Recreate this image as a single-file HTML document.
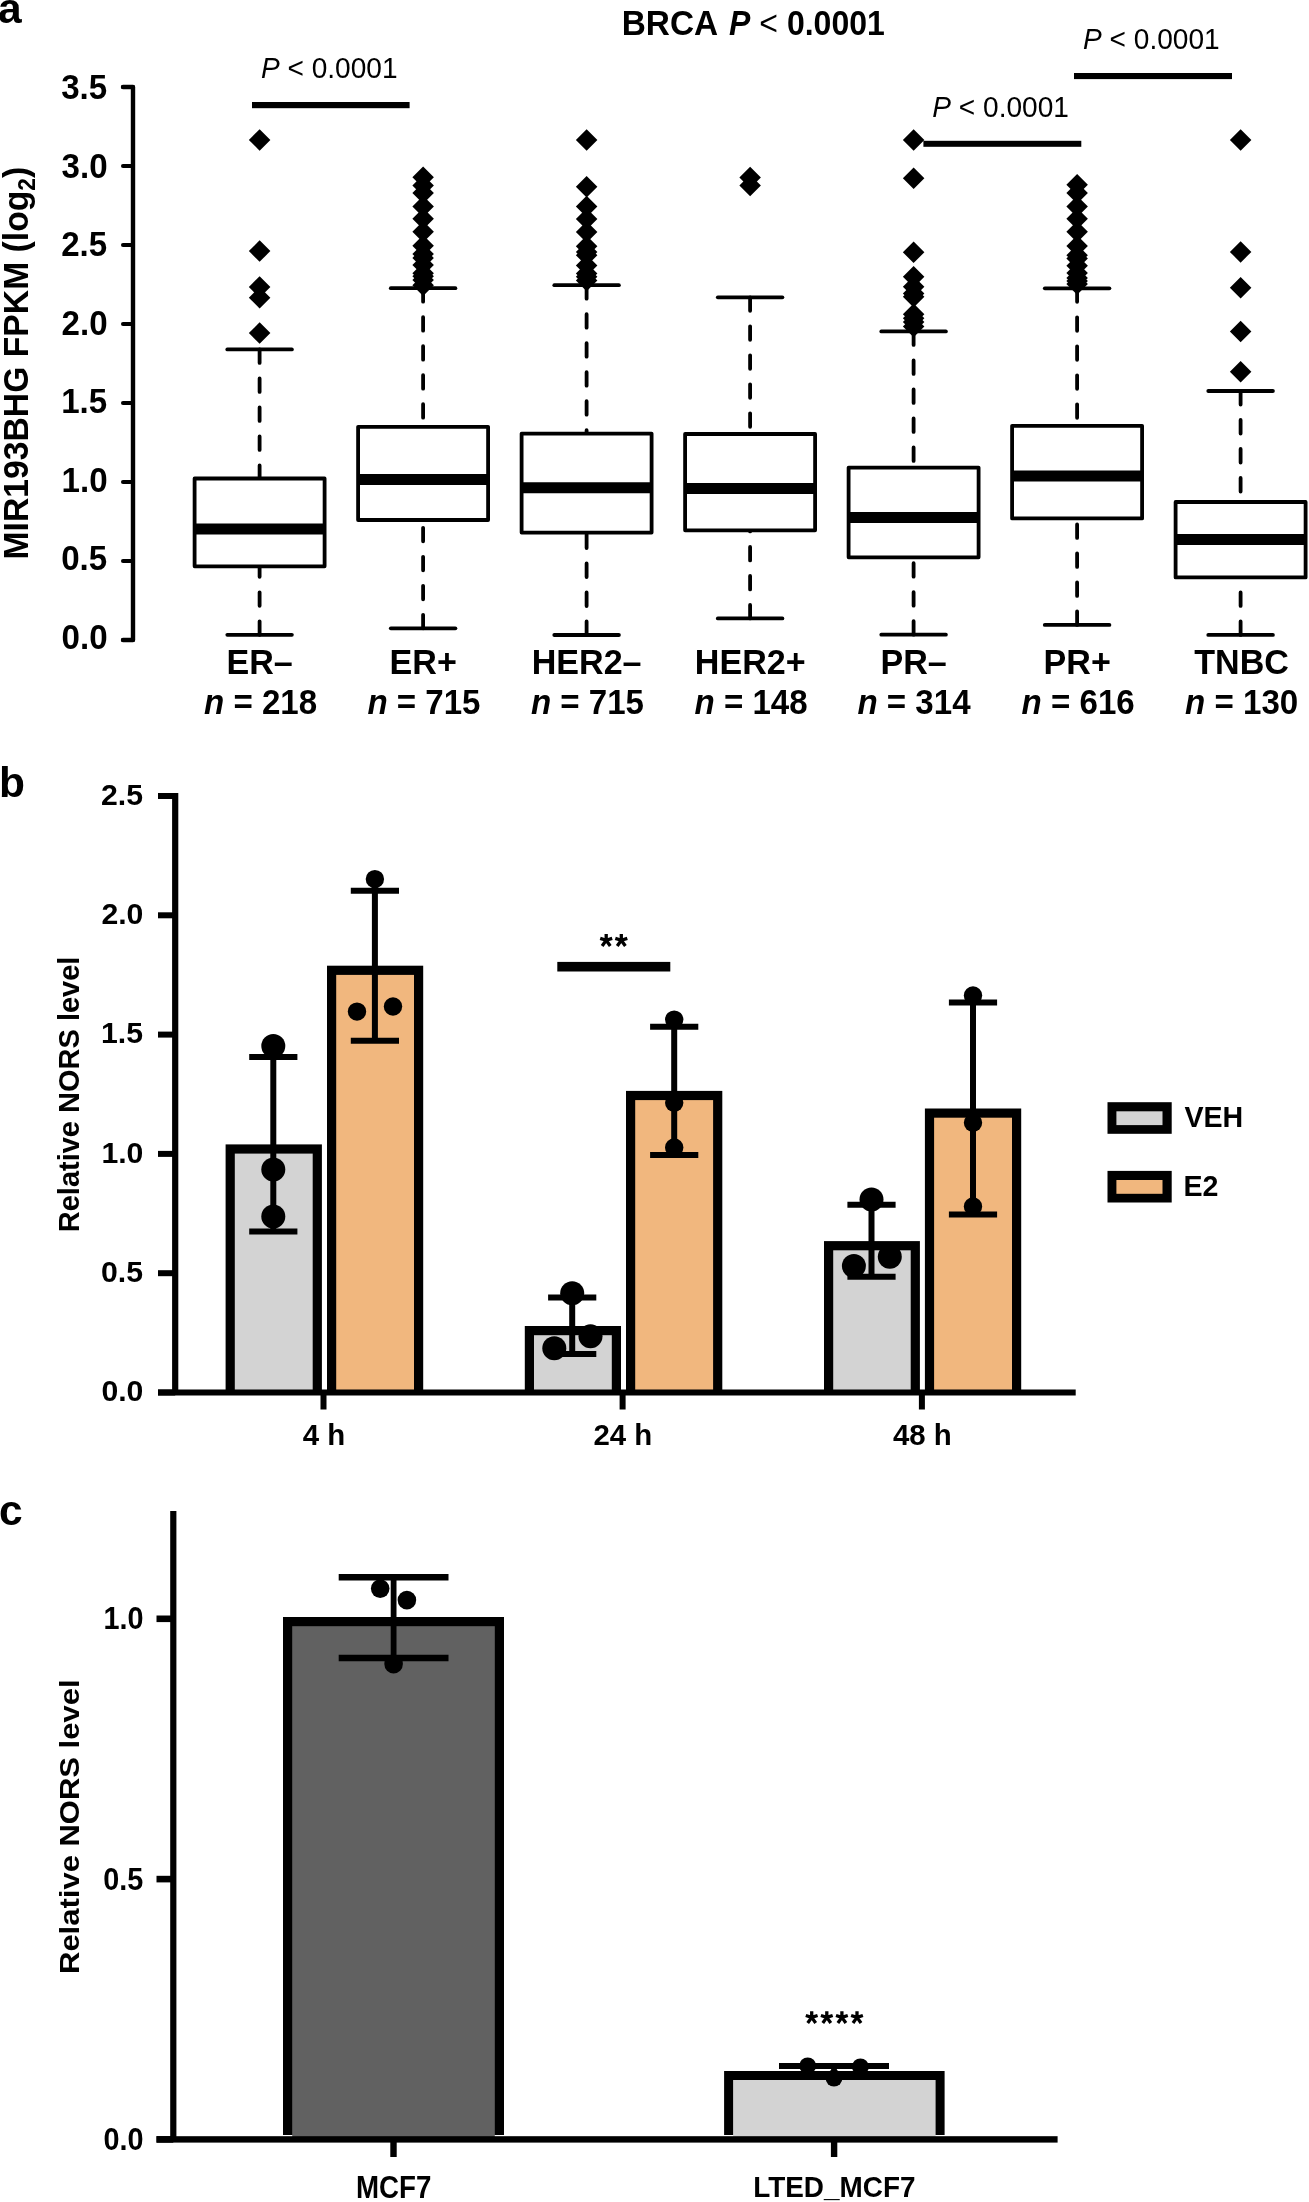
<!DOCTYPE html>
<html><head><meta charset="utf-8"><title>Figure</title>
<style>
html,body{margin:0;padding:0;background:#fff;}
body{width:1309px;height:2202px;overflow:hidden;}
svg{display:block;}
text{filter:grayscale(1);font-family:"Liberation Sans", sans-serif;fill:#000;font-size:100px;}
.b{font-weight:bold;}
.r{font-weight:normal;}
</style></head>
<body>
<svg width="1309" height="2202" viewBox="0 0 1309 2202">
<rect width="1309" height="2202" fill="#fff"/>
<path d="M123 87L133.0 87L133.0 640L123 640" fill="none" stroke="#000" stroke-width="4.4" stroke-linejoin="round" stroke-linecap="round"/>
<line x1="123" y1="640" x2="133.0" y2="640" stroke="#000" stroke-width="4.1" stroke-linecap="round"/>
<text class="b" text-anchor="end" transform="translate(107.592,649.191) scale(0.331,0.348)">0.0</text>
<line x1="123" y1="561" x2="133.0" y2="561" stroke="#000" stroke-width="4.1" stroke-linecap="round"/>
<text class="b" text-anchor="end" transform="translate(107.173,569.973) scale(0.331,0.348)">0.5</text>
<line x1="123" y1="482" x2="133.0" y2="482" stroke="#000" stroke-width="4.1" stroke-linecap="round"/>
<text class="b" text-anchor="end" transform="translate(107.592,491.573) scale(0.331,0.348)">1.0</text>
<line x1="123" y1="403" x2="133.0" y2="403" stroke="#000" stroke-width="4.1" stroke-linecap="round"/>
<text class="b" text-anchor="end" transform="translate(107.173,413.173) scale(0.331,0.348)">1.5</text>
<line x1="123" y1="324" x2="133.0" y2="324" stroke="#000" stroke-width="4.1" stroke-linecap="round"/>
<text class="b" text-anchor="end" transform="translate(107.592,334.583) scale(0.331,0.348)">2.0</text>
<line x1="123" y1="245" x2="133.0" y2="245" stroke="#000" stroke-width="4.1" stroke-linecap="round"/>
<text class="b" text-anchor="end" transform="translate(107.173,256.373) scale(0.331,0.348)">2.5</text>
<line x1="123" y1="166" x2="133.0" y2="166" stroke="#000" stroke-width="4.1" stroke-linecap="round"/>
<text class="b" text-anchor="end" transform="translate(107.592,177.783) scale(0.331,0.348)">3.0</text>
<line x1="123" y1="87" x2="133.0" y2="87" stroke="#000" stroke-width="4.1" stroke-linecap="round"/>
<text class="b" text-anchor="end" transform="translate(107.212,99.063) scale(0.331,0.348)">3.5</text>
<text class="b" transform="translate(28.097,559.471) rotate(-90) scale(0.337,0.348)">MIR193BHG FPKM (log<tspan font-size="67" dy="21">2</tspan><tspan dy="-21">)</tspan></text>
<line x1="259.6" y1="349.4" x2="259.6" y2="478.5" stroke="#000" stroke-width="3.8" stroke-linecap="round" stroke-dasharray="13.5 15.5"/>
<line x1="259.6" y1="634.8" x2="259.6" y2="566.3" stroke="#000" stroke-width="3.8" stroke-linecap="round" stroke-dasharray="13.5 15.5"/>
<line x1="227.3" y1="349.4" x2="291.9" y2="349.4" stroke="#000" stroke-width="3.8" stroke-linecap="round"/>
<line x1="227.3" y1="634.8" x2="291.9" y2="634.8" stroke="#000" stroke-width="3.8" stroke-linecap="round"/>
<rect x="194.6" y="478.5" width="130" height="87.8" fill="#fff" stroke="#000" stroke-width="3.8" stroke-linejoin="round"/>
<line x1="194.6" y1="529" x2="324.6" y2="529" stroke="#000" stroke-width="11"/>
<path d="M259.6 129.15L270.35 139.9L259.6 150.65L248.85 139.9Z" fill="#000"/>
<path d="M259.6 240.35L270.35 251.1L259.6 261.85L248.85 251.1Z" fill="#000"/>
<path d="M259.6 276.25L270.35 287L259.6 297.75L248.85 287Z" fill="#000"/>
<path d="M259.6 286.95L270.35 297.7L259.6 308.45L248.85 297.7Z" fill="#000"/>
<path d="M259.6 322.35L270.35 333.1L259.6 343.85L248.85 333.1Z" fill="#000"/>
<text class="b" text-anchor="middle" transform="translate(259.582,673.8) scale(0.341,0.349)">ER–</text>
<text class="b" text-anchor="middle" transform="translate(260.557,714.2) scale(0.331,0.342)"><tspan font-style="italic">n</tspan> = 218</text>
<line x1="423.1" y1="288.2" x2="423.1" y2="426.8" stroke="#000" stroke-width="3.8" stroke-linecap="round" stroke-dasharray="13.5 15.5"/>
<line x1="423.1" y1="628.3" x2="423.1" y2="520" stroke="#000" stroke-width="3.8" stroke-linecap="round" stroke-dasharray="13.5 15.5"/>
<line x1="390.8" y1="288.2" x2="455.4" y2="288.2" stroke="#000" stroke-width="3.8" stroke-linecap="round"/>
<line x1="390.8" y1="628.3" x2="455.4" y2="628.3" stroke="#000" stroke-width="3.8" stroke-linecap="round"/>
<rect x="358.1" y="426.8" width="130" height="93.2" fill="#fff" stroke="#000" stroke-width="3.8" stroke-linejoin="round"/>
<line x1="358.1" y1="479.5" x2="488.1" y2="479.5" stroke="#000" stroke-width="11"/>
<path d="M423.1 166.45L433.85 177.2L423.1 187.95L412.35 177.2Z" fill="#000"/>
<path d="M423.1 174.65L433.85 185.4L423.1 196.15L412.35 185.4Z" fill="#000"/>
<path d="M423.1 182.25L433.85 193L423.1 203.75L412.35 193Z" fill="#000"/>
<path d="M423.1 195.65L433.85 206.4L423.1 217.15L412.35 206.4Z" fill="#000"/>
<path d="M423.1 208.05L433.85 218.8L423.1 229.55L412.35 218.8Z" fill="#000"/>
<path d="M423.1 221.05L433.85 231.8L423.1 242.55L412.35 231.8Z" fill="#000"/>
<path d="M423.1 235.05L433.85 245.8L423.1 256.55L412.35 245.8Z" fill="#000"/>
<path d="M423.1 243.25L433.85 254L423.1 264.75L412.35 254Z" fill="#000"/>
<path d="M423.1 247.15L433.85 257.9L423.1 268.65L412.35 257.9Z" fill="#000"/>
<path d="M423.1 254.15L433.85 264.9L423.1 275.65L412.35 264.9Z" fill="#000"/>
<path d="M423.1 262.45L433.85 273.2L423.1 283.95L412.35 273.2Z" fill="#000"/>
<path d="M423.1 265.55L433.85 276.3L423.1 287.05L412.35 276.3Z" fill="#000"/>
<path d="M423.1 269.25L433.85 280L423.1 290.75L412.35 280Z" fill="#000"/>
<path d="M423.1 274.55L433.85 285.3L423.1 296.05L412.35 285.3Z" fill="#000"/>
<text class="b" text-anchor="middle" transform="translate(423.2,673.9) scale(0.341,0.349)">ER+</text>
<text class="b" text-anchor="middle" transform="translate(423.949,714.4) scale(0.331,0.342)"><tspan font-style="italic">n</tspan> = 715</text>
<line x1="586.6" y1="285.2" x2="586.6" y2="433.6" stroke="#000" stroke-width="3.8" stroke-linecap="round" stroke-dasharray="13.5 15.5"/>
<line x1="586.6" y1="635" x2="586.6" y2="532.6" stroke="#000" stroke-width="3.8" stroke-linecap="round" stroke-dasharray="13.5 15.5"/>
<line x1="554.3" y1="285.2" x2="618.9" y2="285.2" stroke="#000" stroke-width="3.8" stroke-linecap="round"/>
<line x1="554.3" y1="635" x2="618.9" y2="635" stroke="#000" stroke-width="3.8" stroke-linecap="round"/>
<rect x="521.6" y="433.6" width="130" height="99" fill="#fff" stroke="#000" stroke-width="3.8" stroke-linejoin="round"/>
<line x1="521.6" y1="487.8" x2="651.6" y2="487.8" stroke="#000" stroke-width="11"/>
<path d="M586.6 129.15L597.35 139.9L586.6 150.65L575.85 139.9Z" fill="#000"/>
<path d="M586.6 176.05L597.35 186.8L586.6 197.55L575.85 186.8Z" fill="#000"/>
<path d="M586.6 195.85L597.35 206.6L586.6 217.35L575.85 206.6Z" fill="#000"/>
<path d="M586.6 208.25L597.35 219L586.6 229.75L575.85 219Z" fill="#000"/>
<path d="M586.6 221.25L597.35 232L586.6 242.75L575.85 232Z" fill="#000"/>
<path d="M586.6 235.55L597.35 246.3L586.6 257.05L575.85 246.3Z" fill="#000"/>
<path d="M586.6 241.25L597.35 252L586.6 262.75L575.85 252Z" fill="#000"/>
<path d="M586.6 244.45L597.35 255.2L586.6 265.95L575.85 255.2Z" fill="#000"/>
<path d="M586.6 254.65L597.35 265.4L586.6 276.15L575.85 265.4Z" fill="#000"/>
<path d="M586.6 262.85L597.35 273.6L586.6 284.35L575.85 273.6Z" fill="#000"/>
<path d="M586.6 266.05L597.35 276.8L586.6 287.55L575.85 276.8Z" fill="#000"/>
<path d="M586.6 269.75L597.35 280.5L586.6 291.25L575.85 280.5Z" fill="#000"/>
<text class="b" text-anchor="middle" transform="translate(586.622,674.3) scale(0.341,0.349)">HER2–</text>
<text class="b" text-anchor="middle" transform="translate(587.455,714.2) scale(0.331,0.342)"><tspan font-style="italic">n</tspan> = 715</text>
<line x1="750.1" y1="297.3" x2="750.1" y2="434" stroke="#000" stroke-width="3.8" stroke-linecap="round" stroke-dasharray="13.5 15.5"/>
<line x1="750.1" y1="618.4" x2="750.1" y2="530.3" stroke="#000" stroke-width="3.8" stroke-linecap="round" stroke-dasharray="13.5 15.5"/>
<line x1="717.8" y1="297.3" x2="782.4" y2="297.3" stroke="#000" stroke-width="3.8" stroke-linecap="round"/>
<line x1="717.8" y1="618.4" x2="782.4" y2="618.4" stroke="#000" stroke-width="3.8" stroke-linecap="round"/>
<rect x="685.1" y="434" width="130" height="96.3" fill="#fff" stroke="#000" stroke-width="3.8" stroke-linejoin="round"/>
<line x1="685.1" y1="488.6" x2="815.1" y2="488.6" stroke="#000" stroke-width="11"/>
<path d="M750.1 166.75L760.85 177.5L750.1 188.25L739.35 177.5Z" fill="#000"/>
<path d="M750.1 174.75L760.85 185.5L750.1 196.25L739.35 185.5Z" fill="#000"/>
<text class="b" text-anchor="middle" transform="translate(750.249,673.9) scale(0.341,0.349)">HER2+</text>
<text class="b" text-anchor="middle" transform="translate(751.037,714.2) scale(0.331,0.342)"><tspan font-style="italic">n</tspan> = 148</text>
<line x1="913.6" y1="331.4" x2="913.6" y2="467.6" stroke="#000" stroke-width="3.8" stroke-linecap="round" stroke-dasharray="13.5 15.5"/>
<line x1="913.6" y1="634.7" x2="913.6" y2="557.3" stroke="#000" stroke-width="3.8" stroke-linecap="round" stroke-dasharray="13.5 15.5"/>
<line x1="881.3" y1="331.4" x2="945.9" y2="331.4" stroke="#000" stroke-width="3.8" stroke-linecap="round"/>
<line x1="881.3" y1="634.7" x2="945.9" y2="634.7" stroke="#000" stroke-width="3.8" stroke-linecap="round"/>
<rect x="848.6" y="467.6" width="130" height="89.7" fill="#fff" stroke="#000" stroke-width="3.8" stroke-linejoin="round"/>
<line x1="848.6" y1="517.6" x2="978.6" y2="517.6" stroke="#000" stroke-width="11"/>
<path d="M913.6 129.15L924.35 139.9L913.6 150.65L902.85 139.9Z" fill="#000"/>
<path d="M913.6 167.55L924.35 178.3L913.6 189.05L902.85 178.3Z" fill="#000"/>
<path d="M913.6 241.55L924.35 252.3L913.6 263.05L902.85 252.3Z" fill="#000"/>
<path d="M913.6 266.05L924.35 276.8L913.6 287.55L902.85 276.8Z" fill="#000"/>
<path d="M913.6 276.05L924.35 286.8L913.6 297.55L902.85 286.8Z" fill="#000"/>
<path d="M913.6 282.75L924.35 293.5L913.6 304.25L902.85 293.5Z" fill="#000"/>
<path d="M913.6 285.95L924.35 296.7L913.6 307.45L902.85 296.7Z" fill="#000"/>
<path d="M913.6 303.55L924.35 314.3L913.6 325.05L902.85 314.3Z" fill="#000"/>
<path d="M913.6 307.55L924.35 318.3L913.6 329.05L902.85 318.3Z" fill="#000"/>
<path d="M913.6 311.25L924.35 322L913.6 332.75L902.85 322Z" fill="#000"/>
<path d="M913.6 315.75L924.35 326.5L913.6 337.25L902.85 326.5Z" fill="#000"/>
<text class="b" text-anchor="middle" transform="translate(913.582,673.8) scale(0.341,0.349)">PR–</text>
<text class="b" text-anchor="middle" transform="translate(913.963,714.2) scale(0.331,0.342)"><tspan font-style="italic">n</tspan> = 314</text>
<line x1="1077.1" y1="288.3" x2="1077.1" y2="425.8" stroke="#000" stroke-width="3.8" stroke-linecap="round" stroke-dasharray="13.5 15.5"/>
<line x1="1077.1" y1="624.9" x2="1077.1" y2="518.4" stroke="#000" stroke-width="3.8" stroke-linecap="round" stroke-dasharray="13.5 15.5"/>
<line x1="1044.8" y1="288.3" x2="1109.4" y2="288.3" stroke="#000" stroke-width="3.8" stroke-linecap="round"/>
<line x1="1044.8" y1="624.9" x2="1109.4" y2="624.9" stroke="#000" stroke-width="3.8" stroke-linecap="round"/>
<rect x="1012.1" y="425.8" width="130" height="92.6" fill="#fff" stroke="#000" stroke-width="3.8" stroke-linejoin="round"/>
<line x1="1012.1" y1="476" x2="1142.1" y2="476" stroke="#000" stroke-width="11"/>
<path d="M1077.1 173.95L1087.85 184.7L1077.1 195.45L1066.35 184.7Z" fill="#000"/>
<path d="M1077.1 182.25L1087.85 193L1077.1 203.75L1066.35 193Z" fill="#000"/>
<path d="M1077.1 195.85L1087.85 206.6L1077.1 217.35L1066.35 206.6Z" fill="#000"/>
<path d="M1077.1 207.95L1087.85 218.7L1077.1 229.45L1066.35 218.7Z" fill="#000"/>
<path d="M1077.1 221.05L1087.85 231.8L1077.1 242.55L1066.35 231.8Z" fill="#000"/>
<path d="M1077.1 235.25L1087.85 246L1077.1 256.75L1066.35 246Z" fill="#000"/>
<path d="M1077.1 244.55L1087.85 255.3L1077.1 266.05L1066.35 255.3Z" fill="#000"/>
<path d="M1077.1 247.75L1087.85 258.5L1077.1 269.25L1066.35 258.5Z" fill="#000"/>
<path d="M1077.1 255.05L1087.85 265.8L1077.1 276.55L1066.35 265.8Z" fill="#000"/>
<path d="M1077.1 262.25L1087.85 273L1077.1 283.75L1066.35 273Z" fill="#000"/>
<path d="M1077.1 267.25L1087.85 278L1077.1 288.75L1066.35 278Z" fill="#000"/>
<path d="M1077.1 270.25L1087.85 281L1077.1 291.75L1066.35 281Z" fill="#000"/>
<path d="M1077.1 273.25L1087.85 284L1077.1 294.75L1066.35 284Z" fill="#000"/>
<text class="b" text-anchor="middle" transform="translate(1077.2,673.9) scale(0.341,0.349)">PR+</text>
<text class="b" text-anchor="middle" transform="translate(1078.151,714.2) scale(0.331,0.342)"><tspan font-style="italic">n</tspan> = 616</text>
<line x1="1240.6" y1="391" x2="1240.6" y2="502" stroke="#000" stroke-width="3.8" stroke-linecap="round" stroke-dasharray="13.5 15.5"/>
<line x1="1240.6" y1="634.9" x2="1240.6" y2="577.4" stroke="#000" stroke-width="3.8" stroke-linecap="round" stroke-dasharray="13.5 15.5"/>
<line x1="1208.3" y1="391" x2="1272.9" y2="391" stroke="#000" stroke-width="3.8" stroke-linecap="round"/>
<line x1="1208.3" y1="634.9" x2="1272.9" y2="634.9" stroke="#000" stroke-width="3.8" stroke-linecap="round"/>
<rect x="1175.6" y="502" width="130" height="75.4" fill="#fff" stroke="#000" stroke-width="3.8" stroke-linejoin="round"/>
<line x1="1175.6" y1="539.4" x2="1305.6" y2="539.4" stroke="#000" stroke-width="11"/>
<path d="M1240.6 129.15L1251.35 139.9L1240.6 150.65L1229.85 139.9Z" fill="#000"/>
<path d="M1240.6 241.15L1251.35 251.9L1240.6 262.65L1229.85 251.9Z" fill="#000"/>
<path d="M1240.6 276.95L1251.35 287.7L1240.6 298.45L1229.85 287.7Z" fill="#000"/>
<path d="M1240.6 320.85L1251.35 331.6L1240.6 342.35L1229.85 331.6Z" fill="#000"/>
<path d="M1240.6 361.05L1251.35 371.8L1240.6 382.55L1229.85 371.8Z" fill="#000"/>
<text class="b" text-anchor="middle" transform="translate(1241.625,673.9) scale(0.341,0.349)">TNBC</text>
<text class="b" text-anchor="middle" transform="translate(1241.631,714.2) scale(0.331,0.342)"><tspan font-style="italic">n</tspan> = 130</text>
<text class="b" transform="translate(621.676,34.922) scale(0.334,0.345)">BRCA</text>
<text class="b" transform="translate(729.111,35.046) scale(0.32,0.36)"><tspan font-style="italic">P</tspan> <tspan font-weight="normal">&lt;</tspan> 0.0001</text>
<text class="r" transform="translate(260.937,78.299) scale(0.281,0.301)"><tspan font-style="italic">P</tspan> &lt; 0.0001</text>
<text class="r" transform="translate(932.279,117.299) scale(0.281,0.301)"><tspan font-style="italic">P</tspan> &lt; 0.0001</text>
<text class="r" transform="translate(1083.032,49.499) scale(0.281,0.301)"><tspan font-style="italic">P</tspan> &lt; 0.0001</text>
<rect x="252" y="102" width="157.6" height="6.2" fill="#000"/>
<rect x="923.4" y="140.8" width="157.9" height="6.0" fill="#000"/>
<rect x="1074" y="73.0" width="158" height="6.1" fill="#000"/>
<text x="-2" y="23" class="b" style="font-size:42.5px">a</text>
<line x1="175.2" y1="793" x2="175.2" y2="1392.5" stroke="#000" stroke-width="6.2"/>
<line x1="158" y1="1392.5" x2="175.2" y2="1392.5" stroke="#000" stroke-width="6"/>
<text class="b" text-anchor="end" transform="translate(143.365,1400.806) scale(0.302,0.294)">0.0</text>
<line x1="158" y1="1273.2" x2="175.2" y2="1273.2" stroke="#000" stroke-width="6"/>
<text class="b" text-anchor="end" transform="translate(142.922,1282.1) scale(0.302,0.294)">0.5</text>
<line x1="158" y1="1153.9" x2="175.2" y2="1153.9" stroke="#000" stroke-width="6"/>
<text class="b" text-anchor="end" transform="translate(143.365,1163.1) scale(0.302,0.294)">1.0</text>
<line x1="158" y1="1034.6" x2="175.2" y2="1034.6" stroke="#000" stroke-width="6"/>
<text class="b" text-anchor="end" transform="translate(142.922,1043.3) scale(0.302,0.294)">1.5</text>
<line x1="158" y1="915.3" x2="175.2" y2="915.3" stroke="#000" stroke-width="6"/>
<text class="b" text-anchor="end" transform="translate(143.365,923.924) scale(0.302,0.294)">2.0</text>
<line x1="158" y1="796" x2="175.2" y2="796" stroke="#000" stroke-width="6"/>
<text class="b" text-anchor="end" transform="translate(142.922,804.5) scale(0.302,0.294)">2.5</text>
<rect x="225.6" y="1144.4" width="96.3" height="248.1" fill="#000"/>
<rect x="234.8" y="1153.6" width="77.9" height="238.9" fill="#d3d3d3"/>
<rect x="327" y="965.7" width="96.2" height="426.8" fill="#000"/>
<rect x="336.2" y="974.9" width="77.8" height="417.6" fill="#f1b77e"/>
<rect x="524.8" y="1326" width="96.2" height="66.5" fill="#000"/>
<rect x="534" y="1335.2" width="77.8" height="57.3" fill="#d3d3d3"/>
<rect x="626" y="1090.9" width="96.3" height="301.6" fill="#000"/>
<rect x="635.2" y="1100.1" width="77.9" height="292.4" fill="#f1b77e"/>
<rect x="824" y="1241.1" width="95.9" height="151.4" fill="#000"/>
<rect x="833.2" y="1250.3" width="77.5" height="142.2" fill="#d3d3d3"/>
<rect x="924.9" y="1108.5" width="96.3" height="284" fill="#000"/>
<rect x="934.1" y="1117.7" width="77.9" height="274.8" fill="#f1b77e"/>
<rect x="158" y="1389.5" width="917.7" height="6" fill="#000"/>
<rect x="320.5" y="1392" width="6" height="17.5" fill="#000"/>
<text class="b" text-anchor="middle" transform="translate(323.998,1445.2) scale(0.294,0.289)">4 h</text>
<rect x="619.6" y="1392" width="6" height="17.5" fill="#000"/>
<text class="b" text-anchor="middle" transform="translate(622.837,1445.2) scale(0.294,0.289)">24 h</text>
<rect x="918.9" y="1392" width="6" height="17.5" fill="#000"/>
<text class="b" text-anchor="middle" transform="translate(922.422,1445.2) scale(0.294,0.289)">48 h</text>
<line x1="273.3" y1="1057" x2="273.3" y2="1231.5" stroke="#000" stroke-width="6"/>
<line x1="249.2" y1="1057" x2="297.4" y2="1057" stroke="#000" stroke-width="6"/>
<line x1="249.2" y1="1231.5" x2="297.4" y2="1231.5" stroke="#000" stroke-width="6"/>
<circle cx="273.3" cy="1046" r="12" fill="#000"/>
<circle cx="273.3" cy="1169.6" r="12" fill="#000"/>
<circle cx="273.3" cy="1216.6" r="12" fill="#000"/>
<line x1="374.9" y1="890.8" x2="374.9" y2="1040.7" stroke="#000" stroke-width="6"/>
<line x1="350.8" y1="890.8" x2="399" y2="890.8" stroke="#000" stroke-width="6"/>
<line x1="350.8" y1="1040.7" x2="399" y2="1040.7" stroke="#000" stroke-width="6"/>
<circle cx="374.9" cy="879.1" r="9.2" fill="#000"/>
<circle cx="357" cy="1011.6" r="9.2" fill="#000"/>
<circle cx="393" cy="1006.5" r="9.2" fill="#000"/>
<line x1="572.2" y1="1297.4" x2="572.2" y2="1354" stroke="#000" stroke-width="6"/>
<line x1="548.1" y1="1297.4" x2="596.3" y2="1297.4" stroke="#000" stroke-width="6"/>
<line x1="548.1" y1="1354" x2="596.3" y2="1354" stroke="#000" stroke-width="6"/>
<circle cx="572.2" cy="1293.2" r="12" fill="#000"/>
<circle cx="590.5" cy="1336.3" r="12" fill="#000"/>
<circle cx="554.3" cy="1348.3" r="12" fill="#000"/>
<line x1="674.2" y1="1026.7" x2="674.2" y2="1154.9" stroke="#000" stroke-width="6"/>
<line x1="650.1" y1="1026.7" x2="698.3" y2="1026.7" stroke="#000" stroke-width="6"/>
<line x1="650.1" y1="1154.9" x2="698.3" y2="1154.9" stroke="#000" stroke-width="6"/>
<circle cx="674.2" cy="1019.6" r="9.2" fill="#000"/>
<circle cx="674.2" cy="1102.8" r="9.2" fill="#000"/>
<circle cx="674.2" cy="1147.5" r="9.2" fill="#000"/>
<line x1="871.5" y1="1204.8" x2="871.5" y2="1276.7" stroke="#000" stroke-width="6"/>
<line x1="847.4" y1="1204.8" x2="895.6" y2="1204.8" stroke="#000" stroke-width="6"/>
<line x1="847.4" y1="1276.7" x2="895.6" y2="1276.7" stroke="#000" stroke-width="6"/>
<circle cx="871.5" cy="1199.5" r="12" fill="#000"/>
<circle cx="889.8" cy="1256.8" r="12" fill="#000"/>
<circle cx="853.9" cy="1266" r="12" fill="#000"/>
<line x1="973" y1="1002.6" x2="973" y2="1214.4" stroke="#000" stroke-width="6"/>
<line x1="948.9" y1="1002.6" x2="997.1" y2="1002.6" stroke="#000" stroke-width="6"/>
<line x1="948.9" y1="1214.4" x2="997.1" y2="1214.4" stroke="#000" stroke-width="6"/>
<circle cx="973" cy="995.5" r="9.2" fill="#000"/>
<circle cx="973" cy="1122.7" r="9.2" fill="#000"/>
<circle cx="973" cy="1206.4" r="9.2" fill="#000"/>
<rect x="557.3" y="961.9" width="113" height="9.6" fill="#000"/>
<path d="M606.2 940.3L606.2 934M606.2 940.3L612.192 938.353M606.2 940.3L610.273 945.906M606.2 940.3L602.127 945.906M606.2 940.3L600.208 938.353" stroke="#000" stroke-width="3.3" fill="none"/>
<path d="M621.3 940.3L621.3 934M621.3 940.3L627.292 938.353M621.3 940.3L625.373 945.906M621.3 940.3L617.227 945.906M621.3 940.3L615.308 938.353" stroke="#000" stroke-width="3.3" fill="none"/>
<rect x="1107.5" y="1102.2" width="64.2" height="31.6" fill="#000"/>
<rect x="1116.4" y="1111.3" width="46.1" height="13.8" fill="#d3d3d3"/>
<text class="b" transform="translate(1184.463,1126.6) scale(0.286,0.296)">VEH</text>
<rect x="1107.5" y="1170.9" width="64.2" height="31.6" fill="#000"/>
<rect x="1116.4" y="1180" width="46.1" height="13.8" fill="#f1b77e"/>
<text class="b" transform="translate(1183.407,1195.8) scale(0.286,0.296)">E2</text>
<text class="b" transform="translate(78.535,1232.225) rotate(-90) scale(0.29,0.286)">Relative NORS level</text>
<text x="-1" y="797" class="b" style="font-size:42.5px">b</text>
<line x1="173.3" y1="1511" x2="173.3" y2="2139.4" stroke="#000" stroke-width="6.2"/>
<line x1="156.5" y1="2139.4" x2="173.3" y2="2139.4" stroke="#000" stroke-width="6.6"/>
<text class="b" text-anchor="end" transform="translate(143.555,2150.065) scale(0.288,0.315)">0.0</text>
<line x1="156.5" y1="1879.1" x2="173.3" y2="1879.1" stroke="#000" stroke-width="6.6"/>
<text class="b" text-anchor="end" transform="translate(143.28,1889.9) scale(0.288,0.315)">0.5</text>
<line x1="156.5" y1="1618.8" x2="173.3" y2="1618.8" stroke="#000" stroke-width="6.6"/>
<text class="b" text-anchor="end" transform="translate(143.569,1628.7) scale(0.288,0.315)">1.0</text>
<rect x="283" y="1617" width="221" height="518" fill="#000"/>
<rect x="292.2" y="1626.2" width="202.6" height="513.2" fill="#616161"/>
<rect x="724.1" y="2071" width="220.5" height="64" fill="#000"/>
<rect x="733.1" y="2080" width="202.5" height="59.4" fill="#d3d3d3"/>
<rect x="156.5" y="2136.2" width="901.1" height="6.4" fill="#000"/>
<rect x="390.3" y="2139" width="6.4" height="18" fill="#000"/>
<text class="b" text-anchor="middle" transform="translate(393.627,2198.176) scale(0.277,0.306)">MCF7</text>
<rect x="830.9" y="2139" width="6.4" height="18" fill="#000"/>
<text class="b" text-anchor="middle" transform="translate(834.346,2197) scale(0.279,0.299)">LTED_MCF7</text>
<line x1="393.6" y1="1577.2" x2="393.6" y2="1658" stroke="#000" stroke-width="5.8"/>
<line x1="338.7" y1="1577.2" x2="448.5" y2="1577.2" stroke="#000" stroke-width="6.4"/>
<line x1="338.7" y1="1658" x2="448.5" y2="1658" stroke="#000" stroke-width="6.4"/>
<circle cx="380.2" cy="1588.6" r="9.3" fill="#000"/>
<circle cx="406.9" cy="1600.1" r="9.3" fill="#000"/>
<circle cx="393.6" cy="1664.1" r="9.3" fill="#000"/>
<line x1="834" y1="2066" x2="834" y2="2075" stroke="#000" stroke-width="5.8"/>
<line x1="779" y1="2066" x2="889" y2="2066" stroke="#000" stroke-width="6"/>
<circle cx="807.7" cy="2065.8" r="8.4" fill="#000"/>
<circle cx="860.4" cy="2066.8" r="8.4" fill="#000"/>
<circle cx="834" cy="2078.2" r="8.4" fill="#000"/>
<path d="M811.7 2017.4L811.7 2011.2M811.7 2017.4L817.597 2015.484M811.7 2017.4L815.709 2022.917M811.7 2017.4L807.691 2022.917M811.7 2017.4L805.803 2015.484" stroke="#000" stroke-width="3.3" fill="none"/>
<path d="M826.8 2017.4L826.8 2011.2M826.8 2017.4L832.697 2015.484M826.8 2017.4L830.809 2022.917M826.8 2017.4L822.791 2022.917M826.8 2017.4L820.903 2015.484" stroke="#000" stroke-width="3.3" fill="none"/>
<path d="M841.9 2017.4L841.9 2011.2M841.9 2017.4L847.797 2015.484M841.9 2017.4L845.909 2022.917M841.9 2017.4L837.891 2022.917M841.9 2017.4L836.003 2015.484" stroke="#000" stroke-width="3.3" fill="none"/>
<path d="M857 2017.4L857 2011.2M857 2017.4L862.897 2015.484M857 2017.4L861.009 2022.917M857 2017.4L852.991 2022.917M857 2017.4L851.103 2015.484" stroke="#000" stroke-width="3.3" fill="none"/>
<text class="b" transform="translate(79.199,1974) rotate(-90) scale(0.31,0.283)">Relative NORS level</text>
<text x="-1" y="1524.7" class="b" style="font-size:42.5px">c</text>
</svg>
</body></html>
